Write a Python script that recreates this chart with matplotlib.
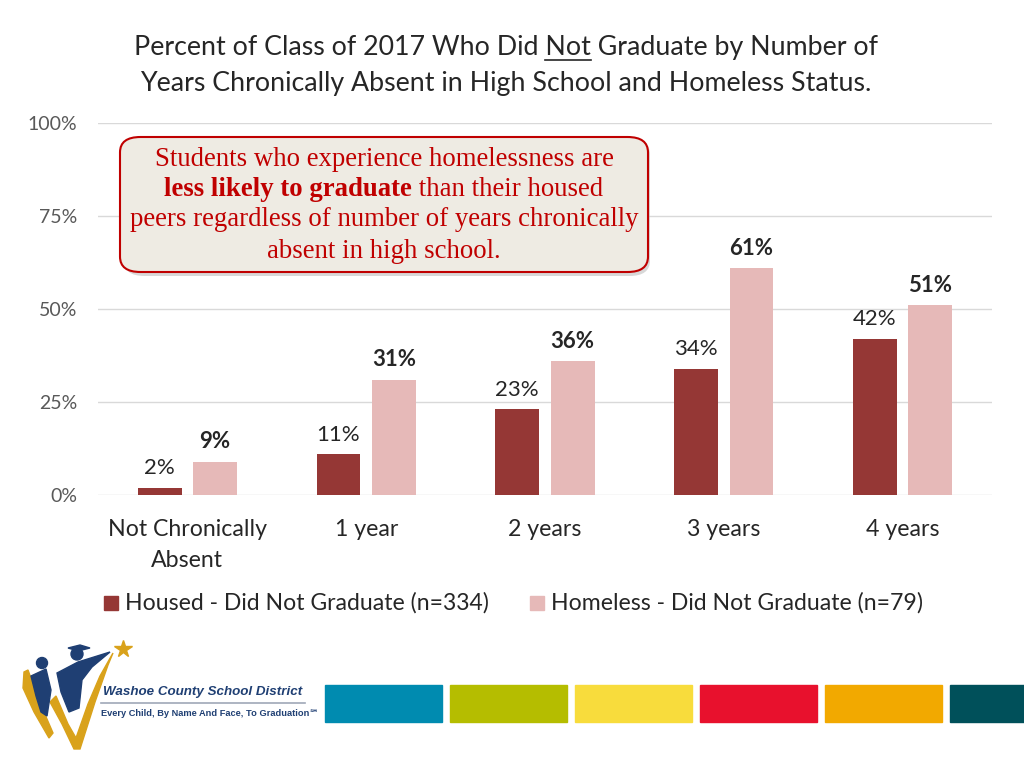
import numpy as np
import matplotlib
matplotlib.use("Agg")
import matplotlib.pyplot as plt
from matplotlib.patches import FancyBboxPatch, Rectangle, Polygon, Circle

# data
categories = ["Not Chronically\nAbsent", "1 year", "2 years", "3 years", "4 years"]
housed = [2, 11, 23, 34, 42]
homeless = [9, 31, 36, 61, 51]
series_names = ["Housed - Did Not Graduate (n=334)", "Homeless - Did Not Graduate (n=79)"]
yticks = [0, 25, 50, 75, 100]
strip_colors = ["#008BB0", "#B5BD00", "#F8DC3C", "#E8112D", "#F2A900", "#00505A"]

HOUSED_C = "#953735"
HOMELESS_C = "#E6B9B8"
TXT = "#262626"
W, H = 1024, 768


def px(x, y):
    return x / W, 1 - y / H


plt.rcParams["font.family"] = ["Lato", "DejaVu Sans"]
fig = plt.figure(figsize=(10.24, 7.68), dpi=100)
fig.patch.set_facecolor("white")

ax = fig.add_axes([98 / W, 1 - 495 / H, (992 - 98) / W, (495 - 123) / H])
x = np.arange(len(categories))
bw = 0.245
off = 0.155
b1 = ax.bar(x - off, housed, bw, color=HOUSED_C, zorder=3)
b2 = ax.bar(x + off, homeless, bw, color=HOMELESS_C, zorder=3)

for r, v in zip(b1, housed):
    ax.text(r.get_x() + r.get_width() / 2, v + 2.5, f"{v}%", ha="center", va="bottom",
            fontsize=16, color=TXT)
for r, v in zip(b2, homeless):
    ax.text(r.get_x() + r.get_width() / 2, v + 2.5, f"{v}%", ha="center", va="bottom",
            fontsize=16, color=TXT, fontweight="bold")

ax.set_xlim(-0.5, len(categories) - 0.5)
ax.set_ylim(0, 100)
ax.set_yticks(yticks)
ax.set_yticklabels([f"{t}%" for t in yticks], fontsize=14, color="#595959")
ax.set_xticks(x)
ax.set_xticklabels(categories, fontsize=16.7, color=TXT, linespacing=1.6)
ax.tick_params(axis="both", length=0)
ax.tick_params(axis="y", pad=15)
ax.tick_params(axis="x", pad=17)
ax.yaxis.grid(True, color="#D9D9D9", lw=1, zorder=0)
for s in ax.spines.values():
    s.set_visible(False)

# legend
fig.patches.append(Rectangle(px(104, 610), 14 / W, 14 / H, color=HOUSED_C, transform=fig.transFigure))
fig.text(*px(125, 603), series_names[0], fontsize=16.6, color=TXT, va="center")
fig.patches.append(Rectangle(px(530, 610), 14 / W, 14 / H, color=HOMELESS_C, transform=fig.transFigure))
fig.text(*px(551, 603), series_names[1], fontsize=16.6, color=TXT, va="center")

# title
tfs = 19.3
fig.text(*px(506, 83), "Years Chronically Absent in High School and Homeless Status.",
         fontsize=tfs, color=TXT, ha="center", va="center")
line1 = "Percent of Class of 2017 Who Did Not Graduate by Number of"
t1 = fig.text(*px(506, 47), line1, fontsize=tfs, color=TXT, ha="center", va="center")
fig.canvas.draw()
r = fig.canvas.get_renderer()
bb = t1.get_window_extent(r)
pre = fig.text(0, 0, "Percent of Class of 2017 Who Did ", fontsize=tfs)
nt = fig.text(0, 0, "Not", fontsize=tfs)
wpre = pre.get_window_extent(r).width
wnot = nt.get_window_extent(r).width
pre.remove()
nt.remove()
uy = 1 - 60 / H
fig.add_artist(plt.Line2D([(bb.x0 + wpre) / W, (bb.x0 + wpre + wnot) / W], [uy, uy],
                          color=TXT, lw=1.2, transform=fig.transFigure))

# callout box
shadow = FancyBboxPatch(px(124, 276), (648 - 122) / W, (276 - 139) / H,
                        boxstyle="round,pad=0,rounding_size=0.02",
                        transform=fig.transFigure, fc="#BFBFBF", ec="none", alpha=0.6)
box = FancyBboxPatch(px(120, 272), (648 - 120) / W, (272 - 137) / H,
                     boxstyle="round,pad=0,rounding_size=0.02",
                     transform=fig.transFigure, fc="#EEEBE3", ec="#C00000", lw=1.5)
fig.patches.append(shadow)
fig.patches.append(box)

RED = "#C00000"
serif = ["Liberation Serif", "DejaVu Serif"]
fs = 19.3
fig.text(*px(384, 159), "Students who experience homelessness are", fontsize=fs,
         color=RED, family=serif, ha="center", va="center")
fig.text(*px(384, 220), "peers regardless of number of years chronically", fontsize=fs,
         color=RED, family=serif, ha="center", va="center")
fig.text(*px(384, 251), "absent in high school.", fontsize=fs,
         color=RED, family=serif, ha="center", va="center")
ta = fig.text(0, 0, "less likely to graduate", fontsize=fs, color=RED, family=serif,
              fontweight="bold", va="center")
tb = fig.text(0, 0, " than their housed", fontsize=fs, color=RED, family=serif, va="center")
wa = ta.get_window_extent(r).width
wb = tb.get_window_extent(r).width
x0 = 384 - (wa + wb) / 2
ta.set_position(px(x0, 190))
tb.set_position(px(x0 + wa, 190))

# colour strip
strips = [(325, 442), (450, 567), (575, 692), (700, 817), (825, 942), (950, 1030)]
for (a, b), c in zip(strips, strip_colors):
    fig.patches.append(Rectangle(px(a, 722), (b - a) / W, 37 / H, color=c,
                                 transform=fig.transFigure))

# logo, drawn in pixel coordinates
lax = fig.add_axes([0, 0, 140 / W, 138 / H])
lax.set_xlim(0, 140)
lax.set_ylim(768, 630)
lax.axis("off")
gold = "#D9A21B"
navy = "#1F3F73"
lax.add_patch(Polygon([(24, 672), (28, 670), (40, 703), (53, 733), (49, 738), (34, 712), (23, 688)],
                      color=gold))
lax.add_patch(Polygon([(50, 702), (56, 696), (68, 724), (76, 738), (88, 704), (100, 676),
                       (113, 653), (108, 665), (95, 702), (80, 749), (74, 749), (62, 724)],
                      color=gold))
lax.add_patch(Polygon([(31, 676), (46, 669), (51, 690), (47, 716), (41, 712), (36, 696)],
                      color=navy))
lax.add_patch(Circle((42, 663), 5.5, color=navy))
lax.add_patch(Polygon([(57, 673), (78, 662), (110, 652), (92, 667), (82, 680), (79, 708),
                       (69, 712), (61, 692)], color=navy))
lax.add_patch(Circle((77, 654), 6, color=navy))
lax.add_patch(Polygon([(68, 648), (80, 645), (90, 648), (78, 651)], color=navy))
lax.plot([123], [649], "*", color=gold, ms=13)

fig.text(*px(103, 692), "Washoe County School District", fontsize=9.6, color=navy,
         family=["Liberation Sans", "DejaVu Sans"], fontweight="bold", style="italic",
         va="center")
fig.add_artist(plt.Line2D([101 / W, 305 / W], [1 - 703 / H] * 2, color="#9FA8B8", lw=1.2,
                          transform=fig.transFigure))
fig.text(*px(101, 714), "Every Child, By Name And Face, To Graduation\u2120", fontsize=6.7,
         color=navy, family=["Liberation Sans", "DejaVu Sans"], fontweight="bold", va="center")

fig.savefig("out.png", dpi=100)
